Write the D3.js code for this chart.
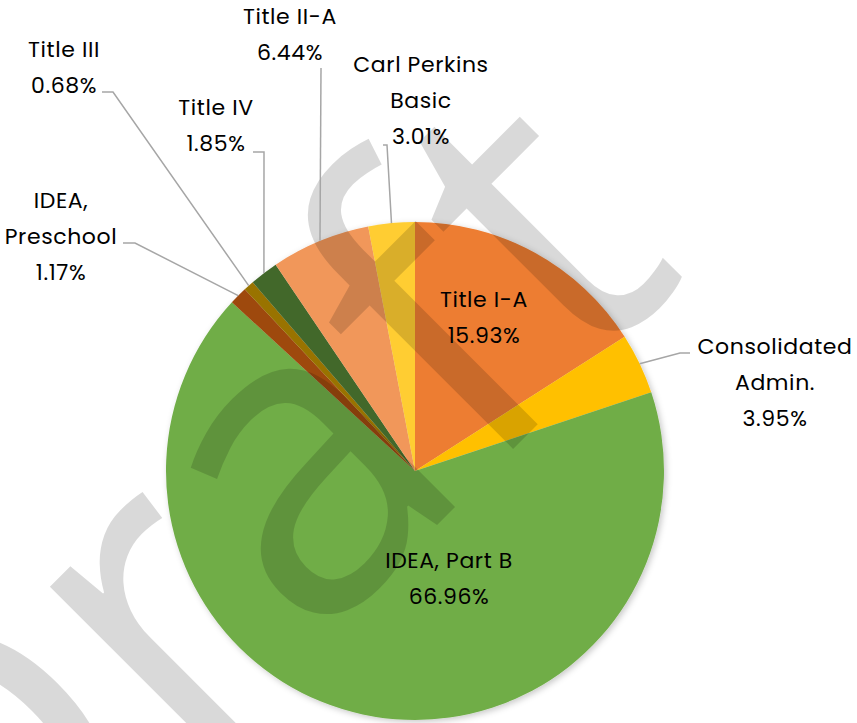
<!DOCTYPE html>
<html>
<head>
<meta charset="utf-8">
<script src="https://cdn.jsdelivr.net/npm/d3@7"></script>
<style>
  html, body { margin: 0; padding: 0; background: #fff; }
  svg { display: block; }
</style>
</head>
<body>
<svg id="chart" width="857" height="723"></svg>
<script>
// ---- data ----
const categories = ["Title I-A", "Consolidated Admin.", "IDEA, Part B", "IDEA, Preschool", "Title III", "Title IV", "Title II-A", "Carl Perkins Basic"];
const values = [15.93, 3.95, 66.96, 1.17, 0.68, 1.85, 6.44, 3.01];
const labelLines = [["Title I-A"], ["Consolidated", "Admin."], ["IDEA, Part B"], ["IDEA,", "Preschool"], ["Title III"], ["Title IV"], ["Title II-A"], ["Carl Perkins", "Basic"]];
const colors = ["#ED7D31", "#FFC000", "#70AD47", "#9E480E", "#997300", "#43682B", "#F1975A", "#FFCD33"];
const watermarkText = "Draft";

// ---- layout ----
const W = 857, H = 723;
const cx = 415, cy = 471, R = 249;
const labelLayout = [
  { inside: true, x: 484, y: 307 },
  { x: 775, y: 354, elbow: [[690, 353], [680, 353]] },
  { inside: true, x: 449, y: 568 },
  { x: 61, y: 208, elbow: [[123, 243], [135, 243]] },
  { x: 64, y: 57, elbow: [[102, 92], [113, 92]] },
  { x: 216, y: 115, elbow: [[253, 152], [264, 152]] },
  { x: 290, y: 24, elbow: [[321, 68]] },
  { x: 421, y: 72, elbow: [[383, 145], [387, 145]] }
];
const lineH = 36;
const font = "Poppins, 'Open Sans', sans-serif";

const svg = d3.select("#chart");
const defs = svg.append("defs");
const f = defs.append("filter").attr("id", "shadow").attr("x", "-10%").attr("y", "-10%").attr("width", "120%").attr("height", "120%");
f.append("feDropShadow").attr("dx", 2).attr("dy", 2).attr("stdDeviation", 3).attr("flood-color", "#000").attr("flood-opacity", 0.22);

const data = categories.map((c, i) => ({ cat: c, value: values[i], i }));
const pie = d3.pie().value(d => d.value).sort(null);
const arcs = pie(data);
const arc = d3.arc().innerRadius(0).outerRadius(R);

const g = svg.append("g").attr("transform", `translate(${cx},${cy})`);
g.append("g").attr("filter", "url(#shadow)")
  .selectAll("path").data(arcs).join("path")
  .attr("d", arc)
  .attr("fill", d => colors[d.data.i]);

// watermark
svg.append("text")
  .attr("transform", "translate(-34,996) rotate(-45)")
  .attr("text-anchor", "start")
  .attr("font-family", "'Open Sans', sans-serif")
  .attr("font-weight", 400)
  .attr("font-size", 430)
  .attr("fill", "rgba(0,0,0,0.15)")
  .text(watermarkText);

// labels + leaders
const lab = svg.append("g");
arcs.forEach((a, k) => {
  const L = labelLayout[k];
  const pct = d3.format(".2f")(a.data.value) + "%";
  const lines = labelLines[k].concat([pct]);
  if (!L.inside) {
    const ang = (a.startAngle + a.endAngle) / 2;
    const px = cx + R * Math.sin(ang), py = cy - R * Math.cos(ang);
    lab.append("path")
      .attr("d", d3.line()(L.elbow.concat([[px, py]])))
      .attr("fill", "none")
      .attr("stroke", "#a6a6a6")
      .attr("stroke-width", 1.5);
  }
  const t = lab.append("text")
    .attr("font-family", font)
    .attr("font-size", 22)
    .attr("letter-spacing", 0.6)
    .attr("fill", "#000")
    .attr("text-anchor", "middle");
  lines.forEach((s, j) => {
    t.append("tspan").attr("x", L.x).attr("y", L.y + j * lineH).text(s);
  });
});
</script>
</body>
</html>
